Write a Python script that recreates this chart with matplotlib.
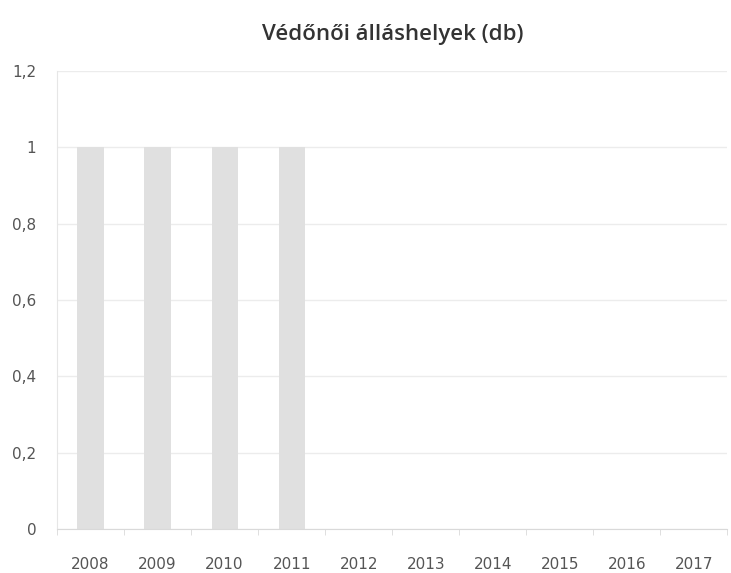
import numpy as np
import matplotlib
matplotlib.use('Agg')
import matplotlib.pyplot as plt

# Adatok
years = ['2008', '2009', '2010', '2011', '2012', '2013', '2014', '2015', '2016', '2017']
values = [1, 1, 1, 1, 0, 0, 0, 0, 0, 0]
yticks = [0, 0.2, 0.4, 0.6, 0.8, 1, 1.2]

fig = plt.figure(figsize=(7.31, 5.73), dpi=100)
ax = fig.add_axes([0.078, 0.077, 0.917, 0.799])

x = np.arange(len(years))
ax.bar(x, values, width=0.39, color='#e0e0e0', zorder=2)

ax.set_xlim(-0.5, len(years) - 0.5)
ax.set_ylim(0, 1.2)
ax.set_yticks(yticks)
ax.set_yticklabels([('%g' % v).replace('.', ',') for v in yticks])
ax.set_xticks(x)
ax.set_xticklabels(years)
ax.set_xticks(np.arange(len(years) + 1) - 0.5, minor=True)

ax.grid(axis='y', color='#ececec', linewidth=1, zorder=0)
for s in ['top', 'right']:
    ax.spines[s].set_visible(False)
ax.spines['left'].set_color('#e6e6e6')
ax.spines['bottom'].set_color('#d9d9d9')
ax.tick_params(axis='y', length=0, pad=15, labelsize=11, labelcolor='#555555')
ax.tick_params(axis='x', which='major', length=0, pad=20, labelsize=11, labelcolor='#555555')
ax.tick_params(axis='x', which='minor', length=4, color='#d9d9d9')

fig.suptitle('Védőnői álláshelyek (db)', x=0.537, y=0.958, fontsize=16, color='#333333',
             family='Open Sans', fontweight='semibold')

fig.savefig('out.png', dpi=100)
